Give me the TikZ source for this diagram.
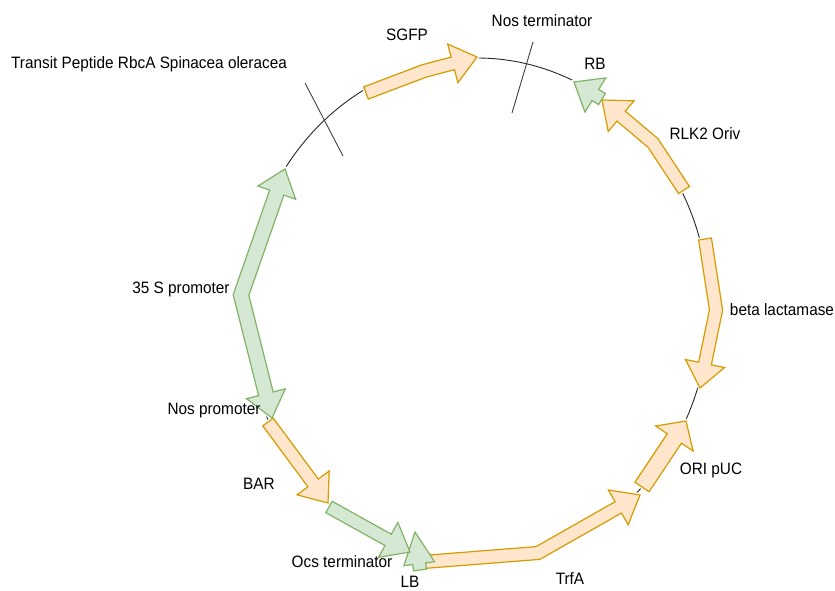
\documentclass[tikz,border=0pt]{standalone}
\usepackage{fontspec}
\setmainfont{Liberation Sans}[FakeStretch=0.93]
\usepackage{xcolor}
\usepackage{tikz}
\usetikzlibrary{calc}

\definecolor{orfill}{HTML}{FFE6CC}
\definecolor{orline}{HTML}{D79B00}
\definecolor{grfill}{HTML}{D5E8D4}
\definecolor{grline}{HTML}{82B366}

\newcommand{\shaftw}{6.5pt}
\newcommand{\headw}{20pt}
\newcommand{\headlen}{25pt}

% block arrow tail -- tip
\newcommand{\straightarrow}[3]{%
  \coordinate (hb) at ($(#3)!\headlen!(#2)$);
  \draw[#1] ($(#2)!\shaftw!90:(#3)$) -- ($(hb)!\shaftw!-90:(#2)$)
    -- ($(hb)!\headw!-90:(#2)$) -- (#3) -- ($(hb)!\headw!90:(#2)$)
    -- ($(hb)!\shaftw!90:(#2)$) -- ($(#2)!\shaftw!-90:(#3)$) -- cycle;
}
% block arrow tail -- bend -- tip
\newcommand{\bentarrow}[4]{%
  \coordinate (hb) at ($(#4)!\headlen!(#3)$);
  \coordinate (l1) at ($(#2)!\shaftw!90:(#3)$);
  \coordinate (l2) at ($(#3)!\shaftw!-90:(#2)$);
  \coordinate (l3) at ($(#3)!\shaftw!90:(hb)$);
  \coordinate (l4) at ($(hb)!\shaftw!-90:(#3)$);
  \coordinate (r1) at ($(#2)!\shaftw!-90:(#3)$);
  \coordinate (r2) at ($(#3)!\shaftw!90:(#2)$);
  \coordinate (r3) at ($(#3)!\shaftw!-90:(hb)$);
  \coordinate (r4) at ($(hb)!\shaftw!90:(#3)$);
  \draw[#1] (l1) -- (intersection of l1--l2 and l3--l4) -- (l4)
    -- ($(hb)!\headw!-90:(#3)$) -- (#4) -- ($(hb)!\headw!90:(#3)$)
    -- (r4) -- (intersection of r1--r2 and r3--r4) -- (r1) -- cycle;
}
% block arrow tip -- bend -- tip
\newcommand{\doublearrow}[4]{%
  \coordinate (ha) at ($(#2)!\headlen!(#3)$);
  \coordinate (hb) at ($(#4)!\headlen!(#3)$);
  \coordinate (l1) at ($(ha)!\shaftw!90:(#3)$);
  \coordinate (l2) at ($(#3)!\shaftw!-90:(ha)$);
  \coordinate (l3) at ($(#3)!\shaftw!90:(hb)$);
  \coordinate (l4) at ($(hb)!\shaftw!-90:(#3)$);
  \coordinate (r1) at ($(ha)!\shaftw!-90:(#3)$);
  \coordinate (r2) at ($(#3)!\shaftw!90:(ha)$);
  \coordinate (r3) at ($(#3)!\shaftw!-90:(hb)$);
  \coordinate (r4) at ($(hb)!\shaftw!90:(#3)$);
  \draw[#1] (#2) -- ($(ha)!\headw!90:(#3)$) -- (l1)
    -- (intersection of l1--l2 and l3--l4) -- (l4)
    -- ($(hb)!\headw!-90:(#3)$) -- (#4) -- ($(hb)!\headw!90:(#3)$)
    -- (r4) -- (intersection of r1--r2 and r3--r4) -- (r1)
    -- ($(ha)!\headw!-90:(#3)$) -- cycle;
}
% all features of the map, #1 style of genes, #2 style of elements
\newcommand{\genemap}[2]{%
  \bentarrow{#1}{sgfp-t}{sgfp-b}{sgfp-h}
  \bentarrow{#1}{oriv-t}{oriv-b}{oriv-h}
  \straightarrow{#2}{rb-t}{rb-h}
  \bentarrow{#1}{bla-t}{bla-b}{bla-h}
  {\renewcommand{\shaftw}{8.5pt}\renewcommand{\headw}{22.5pt}\renewcommand{\headlen}{21pt}%
   \straightarrow{#1}{puc-t}{puc-h}}
  \bentarrow{#1}{trfa-t}{trfa-b}{trfa-h}
  {\renewcommand{\headw}{15.5pt}\renewcommand{\headlen}{32pt}\straightarrow{#2}{lb-t}{lb-h}}
  \straightarrow{#2}{ocs-t}{ocs-h}
  \straightarrow{#1}{bar-t}{bar-h}
  {\renewcommand{\shaftw}{7.5pt}\doublearrow{#2}{p35-h}{p35-b}{pnos-h}}
}

\begin{document}
\begin{tikzpicture}[x=1pt, y=-1pt, font=\fontsize{16.5}{19}\selectfont,
    cds/.style={draw=orline, fill=orfill, line width=1.2pt},
    elem/.style={draw=grline, fill=grfill, line width=1.2pt},
    halo/.style={draw=white, fill=white, line width=4pt},
    cut/.style={draw=black!75, line width=0.9pt}]
	\useasboundingbox (0,0) rectangle (835,590);

	% backbone
	\draw[black!85, line width=0.9pt] (477,310) ellipse [x radius=232pt, y radius=252pt];

	\coordinate (sgfp-t) at (366,93);
	\coordinate (sgfp-b) at (424,71);
	\coordinate (sgfp-h) at (477,57);

	\coordinate (rb-t) at (602,99);
	\coordinate (rb-h) at (574,82);

	\coordinate (oriv-t) at (684,190);
	\coordinate (oriv-b) at (653,143);
	\coordinate (oriv-h) at (602,100);

	\coordinate (bla-t) at (705,239);
	\coordinate (bla-b) at (716,310);
	\coordinate (bla-h) at (700,388);

	\coordinate (puc-t) at (642,487);
	\coordinate (puc-h) at (686,421);

	\coordinate (trfa-t) at (423,562);
	\coordinate (trfa-b) at (538,553);
	\coordinate (trfa-h) at (640,495);

	\coordinate (lb-t) at (420,570);
	\coordinate (lb-h) at (415,532);

	\coordinate (ocs-t) at (329,507);
	\coordinate (ocs-h) at (410,552);

	\coordinate (bar-t) at (268,422);
	\coordinate (bar-h) at (328,503);

	\coordinate (p35-h) at (285,169);
	\coordinate (p35-b) at (241,295);
	\coordinate (pnos-h) at (272,418);

	% genes, first a white rim to hide the backbone
	\genemap{halo}{halo}
	\genemap{cds}{elem}

	% cut marks
	\coordinate (tp-a) at (305,83);
	\coordinate (tp-b) at (343,156);
	\coordinate (nt-a) at (533,42);
	\coordinate (nt-b) at (512,113);
	\draw[cut] (tp-a) -- (tp-b);
	\draw[cut] (nt-a) -- (nt-b);

	% labels
	\node[inner sep=0] (transit) at (149,64) {Transit Peptide RbcA Spinacea oleracea};
	\node[inner sep=0] (sgfp) at (407,35) {SGFP};
	\node[inner sep=0] (nosterm) at (542,21) {Nos terminator};
	\node[inner sep=0] (rb) at (595,64) {RB};
	\node[inner sep=0] (oriv) at (705,134) {RLK2 Oriv};
	\node[inner sep=0] (bla) at (782,310) {beta lactamase};
	\node[inner sep=0] (puc) at (711,470) {ORI pUC};
	\node[inner sep=0] (trfa) at (570,579) {TrfA};
	\node[inner sep=0] (lb) at (410,581.5) {LB};
	\node[inner sep=0] (ocs) at (342,562) {Ocs terminator};
	\node[inner sep=0] (bar) at (259,484) {BAR};
	\node[inner sep=0] (nosprom) at (214,411) {Nos promoter};
	\node[inner sep=0] (p35) at (181,289) {35 S promoter};
\end{tikzpicture}
\end{document}
